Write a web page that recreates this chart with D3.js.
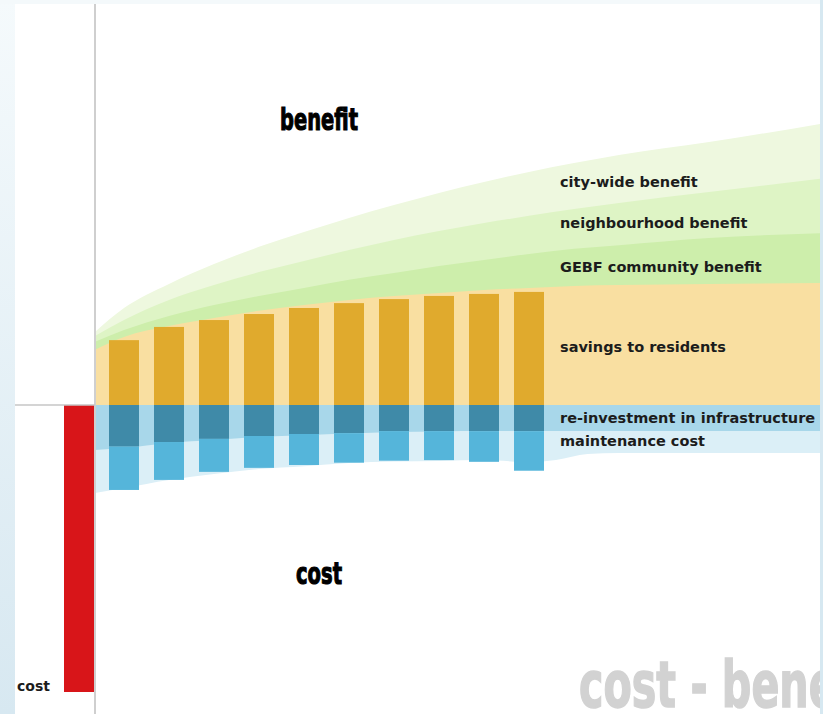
<!DOCTYPE html>
<html>
<head>
<meta charset="utf-8">
<script src="https://cdn.jsdelivr.net/npm/d3@7"></script>
<style>
  body { margin: 0; background: #fff; }
  svg { display: block; }
  .lbl { font-family: 'DejaVu Sans', Verdana, sans-serif; font-weight: bold; font-size: 14.5px; fill: #1c1c1c; }
  .head { font-family: 'Liberation Sans Narrow', 'DejaVu Sans Condensed', sans-serif; font-weight: bold; fill: #000; stroke: #000; stroke-width: 1.1px; }
</style>
</head>
<body>
<div id="chart"></div>
<script>
// years with a bar, year 0 is the initial cost
var years = [1, 2, 3, 4, 5, 6, 7, 8, 9, 10]
var initialCost = -100
var savings = [22.6, 27.2, 29.6, 31.7, 33.8, 35.5, 36.9, 38.0, 38.7, 39.4]
var reinvest = [14.5, 12.9, 11.8, 10.8, 10.1, 9.8, 9.1, 9.1, 9.1, 9.1]
var maintenance = [15.1, 13.2, 11.5, 11.1, 10.8, 10.3, 10.3, 10.1, 10.7, 13.8]

// background bands (benefit side)
var bandT = [0.35, 1, 2, 3, 4, 5, 6, 7, 8, 9, 10, 11, 12, 14, 16.6]
var savingsBand = [19.2, 23.7, 27.5, 30.3, 32.8, 34.8, 36.6, 38.0, 39.0, 40.1, 40.8, 41.5, 41.8, 42.2, 42.5]
var communityBand = [22.0, 26.1, 31.0, 34.8, 38.0, 40.8, 43.6, 46.0, 48.4, 50.5, 52.6, 54.4, 55.7, 58.2, 59.9]
var neighbourhoodBand = [24.0, 29.6, 36.6, 41.8, 46.3, 50.2, 54.0, 57.5, 60.6, 63.4, 65.9, 68.3, 70.4, 74.2, 79.1]
var citywideBand = [25.4, 33.8, 42.2, 49.1, 55.1, 60.3, 65.2, 69.7, 73.9, 77.7, 81.2, 84.3, 87.1, 91.6, 98.3]

// background bands (cost side)
var costT = [0.35, 1, 2, 3, 4, 5, 6, 7, 8, 9, 10, 10.6, 11.3, 12, 16.6]
var reinvestBand = [-15.7, -15.0, -13.2, -12.2, -11.1, -10.5, -9.9, -9.4, -9.2, -9.1, -9.1, -9.1, -9.1, -9.1, -9.1]
var maintenanceBand = [-30.7, -28.9, -26.1, -24.0, -22.3, -21.3, -20.2, -19.7, -19.5, -19.2, -19.9, -19.2, -17.1, -16.7, -16.7]

var labels = ['city-wide benefit', 'neighbourhood benefit', 'GEBF community benefit',
  'savings to residents', 're-investment in infrastructure', 'maintenance cost']
var labelY = [187, 228, 272, 352, 423, 446]

var W = 823, H = 714
var svg = d3.select('#chart').append('svg').attr('width', W).attr('height', H)
var defs = svg.append('defs')

var x = d3.scaleLinear().domain([1, 10]).range([124, 529])
var y = d3.scaleLinear().domain([-100, 100]).range([692, 118])
var bw = x(1 + 1 / 3) - x(1 - 1 / 3)
var axisX = x(0) + bw / 2 + 1

// frame
var grad = defs.append('linearGradient').attr('id', 'side').attr('x1', 0).attr('x2', 0).attr('y1', 0).attr('y2', 1)
grad.append('stop').attr('offset', '0%').attr('stop-color', '#f5fafc')
grad.append('stop').attr('offset', '100%').attr('stop-color', '#d7e8f1')
svg.append('rect').attr('width', W).attr('height', H).attr('fill', '#fff')
svg.append('rect').attr('width', 15).attr('height', H).attr('fill', 'url(#side)')
svg.append('rect').attr('width', W).attr('height', 4).attr('fill', '#f4f9fb')
svg.append('rect').attr('x', 820).attr('width', 3).attr('height', H).attr('fill', '#d6e8f1')

defs.append('clipPath').attr('id', 'plot').append('rect')
  .attr('x', axisX).attr('y', 0).attr('width', 820 - axisX).attr('height', H)
var plot = svg.append('g').attr('clip-path', 'url(#plot)')

function band(ts, vals, fill) {
  var area = d3.area()
    .x(function(d) { return x(d[0]) })
    .y0(y(0))
    .y1(function(d) { return y(d[1]) })
    .curve(d3.curveMonotoneX)
  plot.append('path').datum(d3.zip(ts, vals)).attr('d', area).attr('fill', fill)
}
band(bandT, citywideBand, '#eef8df')
band(bandT, neighbourhoodBand, '#def4c5')
band(bandT, communityBand, '#cdeeab')
band(bandT, savingsBand, '#f9dfa1')
band(costT, maintenanceBand, '#dbeff7')
band(costT, reinvestBand, '#a8d7ea')

// bars
plot.selectAll('.sav').data(years).enter().append('rect')
  .attr('x', function(d) { return x(d) - bw / 2 }).attr('width', bw)
  .attr('y', function(d, i) { return y(savings[i]) })
  .attr('height', function(d, i) { return y(0) - y(savings[i]) })
  .attr('fill', '#e0aa2d')
plot.selectAll('.rei').data(years).enter().append('rect')
  .attr('x', function(d) { return x(d) - bw / 2 }).attr('width', bw)
  .attr('y', y(0))
  .attr('height', function(d, i) { return y(-reinvest[i]) - y(0) })
  .attr('fill', '#3f8aa8')
plot.selectAll('.mai').data(years).enter().append('rect')
  .attr('x', function(d) { return x(d) - bw / 2 }).attr('width', bw)
  .attr('y', function(d, i) { return y(-reinvest[i]) })
  .attr('height', function(d, i) { return y(-reinvest[i] - maintenance[i]) - y(-reinvest[i]) })
  .attr('fill', '#55b5da')

// initial cost
svg.append('rect').attr('x', x(0) - bw / 2).attr('width', bw + 1)
  .attr('y', y(0)).attr('height', y(initialCost) - y(0)).attr('fill', '#d81519')

// axes
svg.append('line').attr('x1', axisX).attr('x2', axisX).attr('y1', 4).attr('y2', H)
  .attr('stroke', '#cfcfcf').attr('stroke-width', 2)
svg.append('line').attr('x1', 15).attr('x2', axisX).attr('y1', y(0)).attr('y2', y(0))
  .attr('stroke', '#c6c6c6').attr('stroke-width', 1.5)

// labels
svg.selectAll('.lbl').data(labels).enter().append('text').attr('class', 'lbl')
  .attr('x', 560).attr('y', function(d, i) { return labelY[i] }).text(function(d) { return d })
svg.append('text').attr('class', 'lbl').attr('x', 17).attr('y', 691).style('font-size', '14px').text('cost')

svg.append('text').attr('class', 'head').attr('x', 280).attr('y', 130)
  .attr('textLength', 78).attr('lengthAdjust', 'spacingAndGlyphs').style('font-size', '31px').text('benefit')
svg.append('text').attr('class', 'head').attr('x', 296).attr('y', 584)
  .attr('textLength', 46).attr('lengthAdjust', 'spacingAndGlyphs').style('font-size', '31px').text('cost')

// watermark, cut by the right edge as in the original slide
defs.append('clipPath').attr('id', 'wm').append('rect').attr('x', 0).attr('y', 0).attr('width', 820).attr('height', H)
svg.append('g').attr('clip-path', 'url(#wm)').append('text')
  .attr('x', 579).attr('y', 707)
  .attr('textLength', 308).attr('lengthAdjust', 'spacingAndGlyphs')
  .style('font-family', "'Liberation Sans Narrow', 'DejaVu Sans Condensed', sans-serif")
  .style('font-weight', 'bold').style('font-size', '64px')
  .attr('fill', '#d2d2d2').attr('stroke', '#d2d2d2').attr('stroke-width', 1.5)
  .text('cost - benefit')
</script>
</body>
</html>
